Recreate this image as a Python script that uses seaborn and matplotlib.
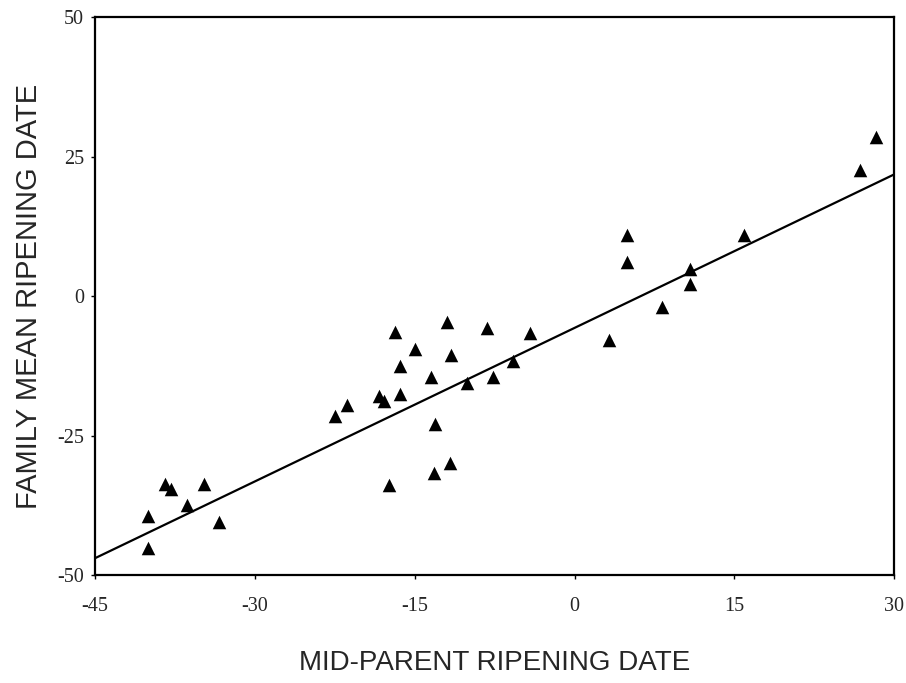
import numpy as np
import pandas as pd
import matplotlib.pyplot as plt
import seaborn as sns

# ### values
mid_parent = [-40.0, -40.0, -38.4, -37.9, -36.4, -34.8, -33.4,
              -22.5, -21.4, -18.4, -17.9, -17.4, -16.9, -16.4, -16.4,
              -15.0, -13.5, -13.1, -13.2, -12.0, -11.6, -11.7, -10.1,
              -8.2, -7.7, -5.8, -4.2, 3.2, 4.9, 4.9, 8.2, 10.8, 10.8,
              15.9, 26.8, 28.3]
family_mean = [-39.4, -45.2, -33.7, -34.6, -37.5, -33.7, -40.5,
               -21.5, -19.5, -17.9, -18.8, -33.9, -6.5, -12.5, -17.6,
               -9.5, -14.5, -22.9, -31.7, -4.7, -10.6, -29.9, -15.6,
               -5.7, -14.5, -11.6, -6.6, -7.9, 10.9, 6.1, -2.0, 4.8, 2.2,
               10.9, 22.6, 28.5]

# fitted line as printed in the figure
fit_slope = 0.917
fit_intercept = -5.7

x_ticks = [-45, -30, -15, 0, 15, 30]
y_ticks = [-50, -25, 0, 25, 50]

df = pd.DataFrame({'mid': mid_parent, 'fam': family_mean})
x_line = np.array([x_ticks[0], x_ticks[-1]])
df_line = pd.DataFrame({'mid': x_line, 'fam': fit_slope * x_line + fit_intercept})

sns.set_style('white')
plt.rcParams['axes.unicode_minus'] = False

fig = plt.figure(figsize=(9.06, 6.83), dpi=100)
ax = fig.add_axes([0.105, 0.158, 0.882, 0.817])

sns.scatterplot(data=df, x='mid', y='fam', ax=ax, marker='^', s=95,
                color='black', linewidth=0, alpha=1)
sns.lineplot(data=df_line, x='mid', y='fam', ax=ax, color='black', linewidth=1.6)

ax.set_xlim(-45, 30)
ax.set_ylim(-50, 50)
ax.set_xticks(x_ticks)
ax.set_yticks(y_ticks)

for s in ax.spines.values():
    s.set_color('black')
    s.set_linewidth(1.6)

ax.tick_params(axis='both', direction='out', length=3, width=1, color='black',
               bottom=True, left=True, labelsize=14.5)
ax.tick_params(axis='x', pad=13)
ax.tick_params(axis='y', pad=5)
for lab in ax.get_xticklabels() + ax.get_yticklabels():
    lab.set_family(['Liberation Serif', 'DejaVu Serif'])

ax.set_xlabel('MID-PARENT RIPENING DATE', fontsize=20,
              family=['Liberation Sans', 'DejaVu Sans'], labelpad=24)
ax.set_ylabel('FAMILY MEAN RIPENING DATE', fontsize=21,
              family=['Liberation Sans', 'DejaVu Sans'], labelpad=10)

fig.savefig('out.png', dpi=100)
